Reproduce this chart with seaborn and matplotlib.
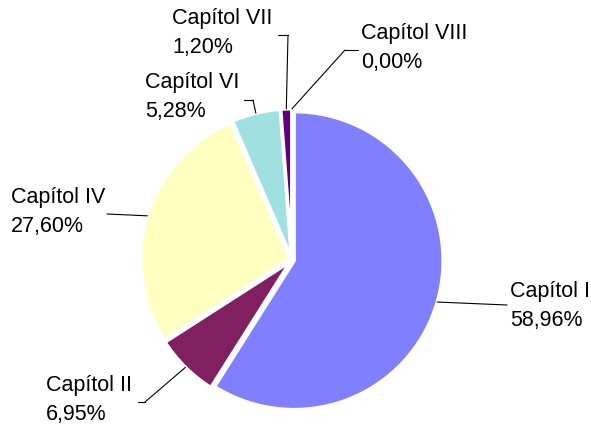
import numpy as np
import seaborn as sns
import matplotlib.pyplot as plt
from matplotlib.lines import Line2D

# chapter shares of the budget (%)
chapters = ["Capítol I", "Capítol II", "Capítol IV", "Capítol VI", "Capítol VII", "Capítol VIII"]
shares = [58.96, 6.95, 27.60, 5.28, 1.20, 0.00]
share_labels = ["58,96%", "6,95%", "27,60%", "5,28%", "1,20%", "0,00%"]
colors = ["#8080FF", "#802060", "#FFFFC0", "#A0E0E0", "#600080", "#FF8080"]

W, H = 591, 425

# label layout in figure pixels: text left/center, elbow point, line end near text
text_pos = [(510, 306), (46, 400), (11, 212), (145, 97), (172, 33), (361, 48)]
elbows = [None, (145, 402), None, (253, 100), (288, 35), (345, 50)]
line_ends = [(507, 305), (138, 402), (107, 214), (244, 100), (278, 35), (358, 50)]


def fig_frac(p):
    return (p[0] / W, 1 - p[1] / H)


def main():
    sns.set_theme(style="white")
    plt.rcParams['font.family'] = ['Liberation Sans', 'DejaVu Sans']

    fig = plt.figure(figsize=(W / 100, H / 100), dpi=100)
    # pie centered at ~(292, 260) px with radius ~150 px
    ax = fig.add_axes([143 / W, 1 - 409 / H, 298 / W, 298 / H])
    wedges, _ = ax.pie(shares, colors=colors, startangle=90, counterclock=False,
                       explode=[0.015] * len(shares),
                       wedgeprops=dict(edgecolor="white", linewidth=2.5))
    ax.set_xlim(-1, 1)
    ax.set_ylim(-1, 1)
    ax.set_aspect("equal")
    ax.axis("off")

    for i, w in enumerate(wedges):
        mid = np.deg2rad((w.theta1 + w.theta2) / 2)
        r = w.r
        cx, cy = w.center
        anchor = (cx + r * np.cos(mid), cy + r * np.sin(mid))
        # leader line
        target = elbows[i] if elbows[i] is not None else line_ends[i]
        ax.annotate("", xy=anchor, xycoords="data",
                    xytext=fig_frac(target), textcoords="figure fraction",
                    annotation_clip=False,
                    arrowprops=dict(arrowstyle="-", color="black", lw=0.8,
                                    shrinkA=0, shrinkB=0))
        if elbows[i] is not None:
            p0 = fig_frac(elbows[i])
            p1 = fig_frac(line_ends[i])
            fig.add_artist(Line2D([p0[0], p1[0]], [p0[1], p1[1]],
                                  color="black", lw=0.8, transform=fig.transFigure))
        tx, ty = fig_frac(text_pos[i])
        fig.text(tx, ty, chapters[i] + "\n" + share_labels[i], fontsize=15.5,
                 ha="left", va="center", linespacing=1.5, color="black")

    plt.savefig("out.png", dpi=100)


if __name__ == "__main__":
    main()
